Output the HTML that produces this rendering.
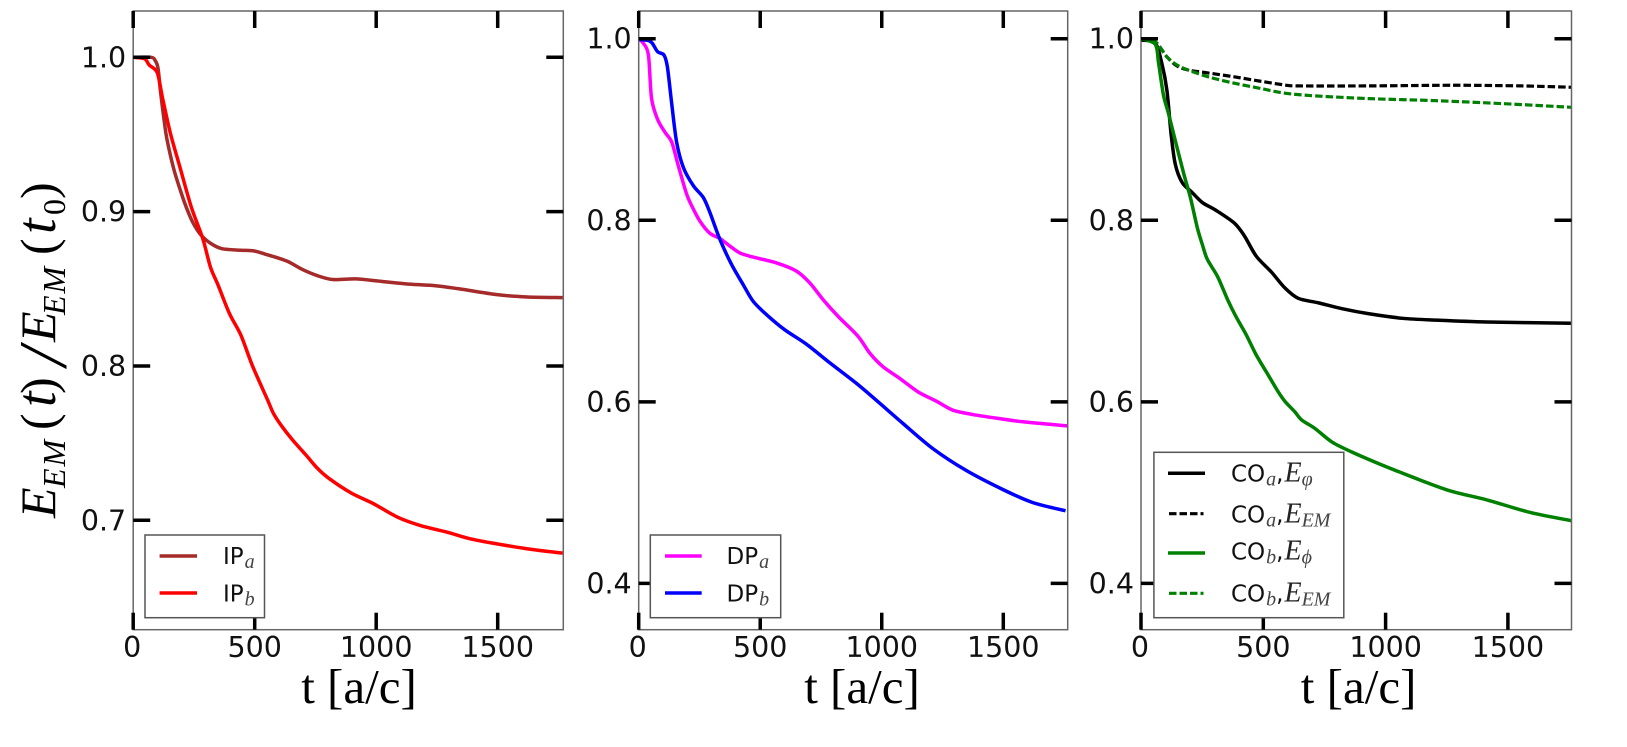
<!DOCTYPE html>
<html lang="en">
<head>
<meta charset="utf-8">
<title>Electromagnetic energy decay panels</title>
<style>
  html, body { margin: 0; padding: 0; background: #fff; }
  body { width: 1627px; height: 747px; overflow: hidden; }
  svg { display: block; }
  .tick-label { font-family: "DejaVu Sans", sans-serif; font-size: 28.5px; fill: #111; }
  .x-title { font-family: "Liberation Serif", serif; font-size: 49px; fill: #000; }
  .y-title { font-family: "Liberation Serif", serif; font-size: 50px; fill: #000; }
  .y-title .i { font-style: italic; }
  .leg { font-family: "DejaVu Sans", sans-serif; font-size: 23px; fill: #111; }
  .leg .m { font-family: "Liberation Serif", serif; font-style: italic; font-size: 28px; fill: #222; }
  .leg .s { font-family: "Liberation Serif", serif; font-style: italic; font-size: 20px; fill: #444; }
  .legend-box { fill: #fff; stroke: #555; stroke-width: 1.5; }
</style>
</head>
<body>
<svg id="figure" xmlns="http://www.w3.org/2000/svg" width="1627" height="747" viewBox="0 0 1627 747">
  <rect x="0" y="0" width="1627" height="747" fill="#fff"/>
  <defs id="clip-defs"></defs>
  <g id="plots"></g>

  <text class="y-title" transform="translate(55 518) rotate(-90)"><tspan class="i" x="0" y="0">E</tspan><tspan class="i" font-size="32" letter-spacing="2" x="30" y="10">EM</tspan><tspan x="88" y="0">(</tspan><tspan class="i" font-size="56" x="111" y="0">t</tspan><tspan x="124" y="0">)</tspan><tspan class="i" font-size="68" x="152" y="11">/</tspan><tspan class="i" x="176" y="0">E</tspan><tspan class="i" font-size="32" letter-spacing="2" x="203" y="10">EM</tspan><tspan x="263" y="0">(</tspan><tspan class="i" font-size="56" x="284" y="0">t</tspan><tspan font-size="32" x="303" y="10">0</tspan><tspan x="319" y="0">)</tspan></text>

  <text class="x-title" x="359" y="703" text-anchor="middle">t [a/c]</text>
  <text class="x-title" x="862" y="703" text-anchor="middle">t [a/c]</text>
  <text class="x-title" x="1358.6" y="703" text-anchor="middle">t [a/c]</text>

  <g>
    <rect class="legend-box" x="145" y="535" width="119.5" height="82.7"/>
    <g>
      <line x1="159.6" x2="197" y1="556" y2="556" stroke="#a52a2a" stroke-width="3.5"/>
      <text class="leg" x="223" y="564">IP<tspan class="s" dx="1" dy="4">a</tspan></text>
    </g>
    <g>
      <line x1="159.6" x2="197" y1="593" y2="593" stroke="#ff0000" stroke-width="3.5"/>
      <text class="leg" x="223" y="601.3">IP<tspan class="s" dx="1" dy="4">b</tspan></text>
    </g>
  </g>

  <g>
    <rect class="legend-box" x="650.3" y="535" width="130.4" height="82.7"/>
    <g>
      <line x1="665" x2="701.7" y1="556" y2="556" stroke="#ff00ff" stroke-width="3.5"/>
      <text class="leg" x="726.5" y="564">DP<tspan class="s" dx="1" dy="4">a</tspan></text>
    </g>
    <g>
      <line x1="665" x2="701.7" y1="593" y2="593" stroke="#0000ff" stroke-width="3.5"/>
      <text class="leg" x="726.5" y="601.3">DP<tspan class="s" dx="1" dy="4">b</tspan></text>
    </g>
  </g>

  <g>
    <rect class="legend-box" x="1153.9" y="452.3" width="189.9" height="165.4"/>
    <g>
      <line x1="1168" x2="1205" y1="473.3" y2="473.3" stroke="#000" stroke-width="3.5"/>
      <text class="leg" x="1231" y="481.7">CO<tspan class="s" dx="1" dy="4">a</tspan><tspan dy="-4">,</tspan><tspan class="m" dx="1">E</tspan><tspan class="s" dy="4">φ</tspan></text>
    </g>
    <g>
      <line x1="1169" x2="1203.5" y1="513.7" y2="513.7" stroke="#000" stroke-width="3.2" stroke-dasharray="7.5 3"/>
      <text class="leg" x="1231" y="522.3">CO<tspan class="s" dx="1" dy="4">a</tspan><tspan dy="-4">,</tspan><tspan class="m" dx="1">E</tspan><tspan class="s" dy="4">EM</tspan></text>
    </g>
    <g>
      <line x1="1168" x2="1205" y1="553" y2="553" stroke="#008000" stroke-width="3.5"/>
      <text class="leg" x="1231" y="559.5">CO<tspan class="s" dx="1" dy="4">b</tspan><tspan dy="-4">,</tspan><tspan class="m" dx="1">E</tspan><tspan class="s" dy="4">ϕ</tspan></text>
    </g>
    <g>
      <line x1="1169" x2="1203.5" y1="593.3" y2="593.3" stroke="#008000" stroke-width="3.2" stroke-dasharray="7.5 3"/>
      <text class="leg" x="1231" y="601.3">CO<tspan class="s" dx="1" dy="4">b</tspan><tspan dy="-4">,</tspan><tspan class="m" dx="1">E</tspan><tspan class="s" dy="4">EM</tspan></text>
    </g>
  </g>
</svg>

<script>
const xTickValues = [0, 500, 1000, 1500];
const ipYTicks = [1.0, 0.9, 0.8, 0.7];
const sharedYTicks = [1.0, 0.8, 0.6, 0.4];

const ipATimes = [0, 74, 90, 102, 113, 129, 140, 168, 200, 223, 247, 278, 318, 365, 443, 498, 553, 632, 695, 758, 821, 915, 1009, 1135, 1244, 1340, 1497, 1623, 1767];
const ipAValues = [1.0, 1.0, 0.998, 0.993, 0.977, 0.957, 0.946, 0.927, 0.911, 0.901, 0.8925, 0.885, 0.8795, 0.876, 0.875, 0.8745, 0.872, 0.868, 0.8626, 0.8585, 0.856, 0.8564, 0.855, 0.853, 0.852, 0.85, 0.8462, 0.8447, 0.8443];

const ipBTimes = [0, 47, 66, 99, 121, 153, 192, 239, 286, 318, 349, 396, 443, 491, 553, 577, 608, 656, 711, 758, 805, 899, 986, 1088, 1182, 1292, 1387, 1497, 1623, 1767];
const ipBValues = [1.0, 0.999, 0.995, 0.99, 0.9734, 0.9508, 0.929, 0.903, 0.8827, 0.864, 0.8525, 0.834, 0.82, 0.8, 0.778, 0.7693, 0.7617, 0.752, 0.7423, 0.7337, 0.7272, 0.7175, 0.711, 0.702, 0.6966, 0.6923, 0.688, 0.6847, 0.6815, 0.6787];

const dpATimes = [0, 19, 40, 53, 78, 108, 136, 163, 197, 218, 252, 293, 334, 375, 416, 471, 567, 649, 704, 759, 821, 903, 951, 1005, 1074, 1149, 1225, 1293, 1375, 1485, 1581, 1763];
const dpAValues = [1.0, 0.995, 0.982, 0.934, 0.911, 0.897, 0.886, 0.86, 0.829, 0.816, 0.799, 0.7856, 0.78, 0.7716, 0.764, 0.7594, 0.753, 0.744, 0.731, 0.7125, 0.694, 0.672, 0.6535, 0.6387, 0.6258, 0.611, 0.6007, 0.5908, 0.586, 0.5815, 0.578, 0.5735];

const dpBTimes = [0, 40, 56, 78, 104, 118, 136, 156, 184, 225, 266, 293, 334, 382, 430, 471, 526, 601, 690, 786, 896, 985, 1088, 1211, 1348, 1499, 1622, 1756];
const dpBValues = [0.999, 0.998, 0.995, 0.9856, 0.982, 0.969, 0.928, 0.886, 0.858, 0.838, 0.825, 0.8085, 0.779, 0.7513, 0.729, 0.7107, 0.696, 0.6793, 0.6635, 0.643, 0.6203, 0.6, 0.576, 0.5483, 0.5243, 0.5033, 0.489, 0.48];

const coAPhiTimes = [0, 58, 85, 106, 123, 140, 168, 209, 251, 306, 381, 423, 471, 533, 588, 643, 726, 822, 932, 1070, 1208, 1414, 1761];
const coAPhiValues = [0.9985, 0.995, 0.973, 0.943, 0.895, 0.862, 0.8417, 0.8306, 0.8195, 0.811, 0.797, 0.7827, 0.7605, 0.743, 0.7255, 0.714, 0.709, 0.7026, 0.697, 0.692, 0.69, 0.688, 0.6865];

const coAEmTimes = [0, 58, 106, 147, 196, 271, 381, 492, 588, 643, 932, 1276, 1552, 1761];
const coAEmValues = [1.0, 0.9967, 0.98, 0.97, 0.9653, 0.9624, 0.958, 0.953, 0.949, 0.948, 0.948, 0.9487, 0.948, 0.9465];

const coBPhiTimes = [0, 58, 72, 92, 113, 140, 175, 202, 230, 251, 271, 313, 354, 388, 430, 471, 519, 561, 588, 629, 657, 712, 781, 863, 974, 1111, 1263, 1414, 1593, 1761];
const coBPhiValues = [1.0, 0.994, 0.973, 0.9376, 0.917, 0.888, 0.851, 0.825, 0.792, 0.773, 0.757, 0.738, 0.7126, 0.694, 0.674, 0.6517, 0.63, 0.611, 0.6007, 0.589, 0.58, 0.5705, 0.5557, 0.5446, 0.5317, 0.517, 0.502, 0.492, 0.478, 0.469];

const coBEmTimes = [0, 58, 106, 147, 202, 285, 381, 492, 588, 712, 932, 1208, 1483, 1761];
const coBEmValues = [1.0, 0.9965, 0.98, 0.971, 0.9646, 0.9572, 0.951, 0.945, 0.94, 0.937, 0.934, 0.9317, 0.9284, 0.9244];

const NS = 'http://www.w3.org/2000/svg';
const plots = document.getElementById('plots');
const clipDefs = document.getElementById('clip-defs');

function smoothPath(px, py) {
  let d = 'M' + px[0].toFixed(2) + ' ' + py[0].toFixed(2);
  for (let i = 0; i < px.length - 1; i++) {
    const a = Math.max(i - 1, 0);
    const b = Math.min(i + 2, px.length - 1);
    const k = 0.15;
    const c1x = px[i] + (px[i + 1] - px[a]) * k;
    const c1y = py[i] + (py[i + 1] - py[a]) * k;
    const c2x = px[i + 1] - (px[b] - px[i]) * k;
    const c2y = py[i + 1] - (py[b] - py[i]) * k;
    d += ' C' + c1x.toFixed(2) + ' ' + c1y.toFixed(2) + ' ' + c2x.toFixed(2) + ' ' + c2y.toFixed(2) + ' ' + px[i + 1].toFixed(2) + ' ' + py[i + 1].toFixed(2);
  }
  return d;
}

function drawPanel(panel) {
  const sx = function (t) { return panel.left + (t / panel.xMax) * (panel.right - panel.left); };
  const sy = function (v) { return panel.bottom - ((v - panel.yMin) / (panel.yMax - panel.yMin)) * (panel.bottom - panel.top); };

  const group = document.createElementNS(NS, 'g');
  
  
  plots.appendChild(group);

  const clip = document.createElementNS(NS, 'clipPath');
  clip.setAttribute('id', 'clip-' + panel.id);
  const clipRect = document.createElementNS(NS, 'rect');
  clipRect.setAttribute('x', panel.left);
  clipRect.setAttribute('y', panel.top);
  clipRect.setAttribute('width', panel.right - panel.left);
  clipRect.setAttribute('height', panel.bottom - panel.top);
  clip.appendChild(clipRect);
  clipDefs.appendChild(clip);

  panel.series.forEach(function (s) {
    const path = document.createElementNS(NS, 'path');
    
    
    path.setAttribute('d', smoothPath(s.times.map(sx), s.values.map(sy)));
    path.setAttribute('fill', 'none');
    path.setAttribute('stroke', s.color);
    path.setAttribute('stroke-width', s.dashed ? 3.2 : 3.5);
    path.setAttribute('stroke-linejoin', 'round');
    if (s.dashed) path.setAttribute('stroke-dasharray', '7.5 3');
    path.setAttribute('clip-path', 'url(#clip-' + panel.id + ')');
    group.appendChild(path);
  });

  const frame = document.createElementNS(NS, 'rect');
  
  
  frame.setAttribute('x', panel.left);
  frame.setAttribute('y', panel.top);
  frame.setAttribute('width', panel.right - panel.left);
  frame.setAttribute('height', panel.bottom - panel.top);
  frame.setAttribute('fill', 'none');
  frame.setAttribute('stroke', '#666');
  frame.setAttribute('stroke-width', 1.5);
  group.appendChild(frame);

  const tickLen = 17;
  xTickValues.forEach(function (t) {
    [[panel.bottom, panel.bottom - tickLen], [panel.top, panel.top + tickLen]].forEach(function (pair) {
      const tick = document.createElementNS(NS, 'line');
      
      
      tick.setAttribute('x1', sx(t));
      tick.setAttribute('x2', sx(t));
      tick.setAttribute('y1', pair[0]);
      tick.setAttribute('y2', pair[1]);
      tick.setAttribute('stroke', '#000');
      tick.setAttribute('stroke-width', 3.5);
      group.appendChild(tick);
    });
    const label = document.createElementNS(NS, 'text');
    
    
    label.setAttribute('class', 'tick-label');
    label.setAttribute('x', sx(t) - (t === 0 ? 1 : 0));
    label.setAttribute('y', panel.bottom + 27.5);
    label.setAttribute('text-anchor', 'middle');
    label.textContent = String(t);
    group.appendChild(label);
  });

  panel.yTicks.forEach(function (v) {
    [[panel.left, panel.left + tickLen], [panel.right, panel.right - tickLen]].forEach(function (pair) {
      const tick = document.createElementNS(NS, 'line');
      
      
      tick.setAttribute('x1', pair[0]);
      tick.setAttribute('x2', pair[1]);
      tick.setAttribute('y1', sy(v));
      tick.setAttribute('y2', sy(v));
      tick.setAttribute('stroke', '#000');
      tick.setAttribute('stroke-width', 3.5);
      group.appendChild(tick);
    });
    const label = document.createElementNS(NS, 'text');
    
    
    label.setAttribute('class', 'tick-label');
    label.setAttribute('x', panel.left - 7);
    label.setAttribute('y', sy(v) + 10);
    label.setAttribute('text-anchor', 'end');
    label.textContent = v.toFixed(1);
    group.appendChild(label);
  });
}

drawPanel({
  id: 'ip', left: 133.2, right: 563.3, top: 11, bottom: 629.7, xMax: 1770, yMin: 0.6291, yMax: 1.03,
  yTicks: ipYTicks,
  series: [
    { id: 'ip-a', times: ipATimes, values: ipAValues, color: '#a52a2a' },
    { id: 'ip-b', times: ipBTimes, values: ipBValues, color: '#ff0000' }
  ]
});
drawPanel({
  id: 'dp', left: 638.7, right: 1067.7, top: 11, bottom: 629.7, xMax: 1765, yMin: 0.349, yMax: 1.0305,
  yTicks: sharedYTicks,
  series: [
    { id: 'dp-a', times: dpATimes, values: dpAValues, color: '#ff00ff' },
    { id: 'dp-b', times: dpBTimes, values: dpBValues, color: '#0000ff' }
  ]
});
drawPanel({
  id: 'co', left: 1141, right: 1571.5, top: 11, bottom: 629.7, xMax: 1760, yMin: 0.349, yMax: 1.0305,
  yTicks: sharedYTicks,
  series: [
    { id: 'co-a-phi', times: coAPhiTimes, values: coAPhiValues, color: '#000000' },
    { id: 'co-a-em', times: coAEmTimes, values: coAEmValues, color: '#000000', dashed: true },
    { id: 'co-b-phi', times: coBPhiTimes, values: coBPhiValues, color: '#008000' },
    { id: 'co-b-em', times: coBEmTimes, values: coBEmValues, color: '#008000', dashed: true }
  ]
});
</script>
</body>
</html>
